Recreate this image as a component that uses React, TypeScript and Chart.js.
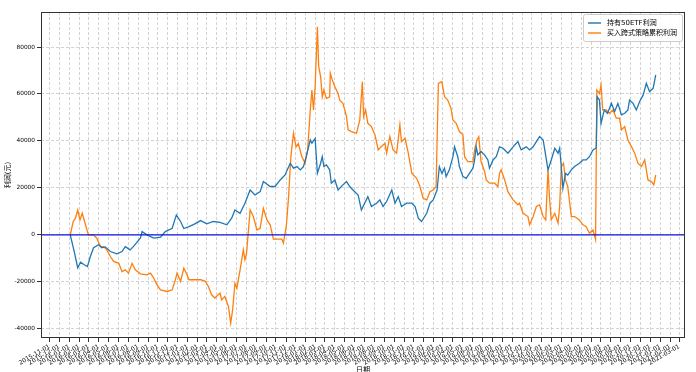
import React, { useEffect, useRef } from "react";
import { Chart, registerables } from "chart.js";

Chart.register(...registerables);

// ---------- data ----------
const seriesLabels = ["持有50ETF利润", "买入跨式策略累积利润"];
const yAxisTitle = "利润(元)";
const xAxisTitle = "日期";

const holdDates = [
  "2016-01-04","2016-01-15","2016-01-27","2016-02-05","2016-02-15","2016-02-26","2016-03-06","2016-03-16","2016-04-01","2016-04-11",
  "2016-04-21","2016-05-07","2016-05-27","2016-06-12","2016-06-22","2016-07-07","2016-07-17","2016-08-08","2016-08-13","2016-08-28",
  "2016-09-18","2016-10-09","2016-10-24","2016-11-14","2016-11-27","2016-12-10","2016-12-20","2017-01-05","2017-01-20","2017-02-10",
  "2017-03-01","2017-03-21","2017-04-11","2017-05-02","2017-05-17","2017-05-27","2017-06-12","2017-06-27","2017-07-13","2017-07-28",
  "2017-08-13","2017-08-23","2017-09-13","2017-09-28","2017-10-14","2017-10-29","2017-11-14","2017-11-24","2017-12-05","2017-12-15",
  "2017-12-25","2018-01-05","2018-01-15","2018-01-20","2018-01-30","2018-02-06","2018-02-16","2018-02-21","2018-02-26","2018-03-06",
  "2018-03-16","2018-03-21","2018-04-01","2018-04-11","2018-04-26","2018-05-07","2018-05-17","2018-05-27","2018-06-12","2018-06-22",
  "2018-07-02","2018-07-12","2018-07-23","2018-08-08","2018-08-18","2018-08-28","2018-09-08","2018-09-24","2018-10-04","2018-10-14",
  "2018-10-24","2018-11-09","2018-11-25","2018-12-05","2018-12-15","2018-12-25","2019-01-10","2019-01-20","2019-01-30","2019-02-11",
  "2019-02-18","2019-02-26","2019-03-06","2019-03-11","2019-03-21","2019-04-01","2019-04-06","2019-04-16","2019-04-21","2019-05-02",
  "2019-05-12","2019-05-22","2019-06-02","2019-06-07","2019-06-12","2019-06-17","2019-06-27","2019-07-08","2019-07-18","2019-07-23",
  "2019-08-03","2019-08-13","2019-08-23","2019-09-03","2019-09-18","2019-10-04","2019-10-09","2019-10-19","2019-10-29","2019-11-14",
  "2019-11-24","2019-12-05","2019-12-15","2019-12-25","2020-01-05","2020-01-10","2020-01-20","2020-01-30","2020-02-10","2020-02-20",
  "2020-02-25","2020-03-01","2020-03-06","2020-03-14","2020-03-21","2020-04-01","2020-04-11","2020-04-26","2020-05-07","2020-05-17",
  "2020-05-27","2020-06-07","2020-06-17","2020-06-20","2020-06-27","2020-07-02","2020-07-07","2020-07-12","2020-07-22","2020-08-03",
  "2020-08-13","2020-08-23","2020-09-03","2020-09-13","2020-09-23","2020-09-28","2020-10-09","2020-10-19","2020-10-29","2020-11-09",
  "2020-11-19","2020-11-29","2020-12-10","2020-12-18",
];
const holdProfit = [
  0,-6400,-14000,-11600,-12600,-13500,-9200,-5500,-4200,-5500,
  -5100,-7100,-8100,-7100,-5000,-6400,-5000,-1300,1400,0,
  -1400,-1000,1400,2800,8500,5700,2700,3500,4500,6100,
  4700,5700,5300,4300,7100,10600,9200,13500,19100,17000,
  18400,22700,20600,20600,23400,25500,30500,28400,29100,27700,
  29100,34800,40400,39000,41100,26200,30500,33300,29100,29800,
  27700,22000,23400,19100,21300,22700,20600,19100,17000,10600,
  13500,16300,12100,13500,14900,12100,14200,19100,13500,16300,
  12100,13500,13500,12100,7100,5700,9200,13500,14900,19100,
  29100,26200,28400,24800,27700,33300,37500,33300,29100,24800,
  24100,26200,28400,31900,37500,34100,35500,34100,31900,28400,
  31900,33300,37500,36900,34800,37500,38300,39700,36200,37500,
  36200,37500,39700,41900,40400,36200,27700,31900,36900,34800,
  36900,29100,19900,26200,25500,27700,29100,30500,31900,31900,
  33300,36200,37000,58800,57400,47500,50400,53200,51800,56000,
  52500,56000,51100,51800,53200,57400,56000,53200,56700,59500,
  64500,61000,62400,68100,
];

const straddleDates = [
  "2016-01-04","2016-01-13","2016-01-20","2016-01-27","2016-02-03","2016-02-10","2016-02-20","2016-02-29","2016-03-16","2016-03-26",
  "2016-04-06","2016-04-16","2016-04-26","2016-05-07","2016-05-17","2016-06-02","2016-06-12","2016-06-22","2016-07-02","2016-07-13",
  "2016-07-23","2016-08-08","2016-08-28","2016-09-08","2016-09-18","2016-09-28","2016-10-09","2016-10-29","2016-11-14","2016-11-24",
  "2016-11-29","2016-12-10","2016-12-20","2016-12-30","2017-01-05","2017-01-20","2017-02-10","2017-02-25","2017-03-06","2017-03-16",
  "2017-03-26","2017-04-11","2017-04-16","2017-04-26","2017-05-07","2017-05-14","2017-05-20","2017-05-27","2017-06-02","2017-06-12",
  "2017-06-22","2017-06-27","2017-07-02","2017-07-13","2017-07-23","2017-08-03","2017-08-13","2017-08-23","2017-09-03","2017-09-13",
  "2017-09-23","2017-10-09","2017-10-19","2017-10-24","2017-11-02","2017-11-09","2017-11-16","2017-11-24","2017-12-02","2017-12-09",
  "2017-12-20","2017-12-30","2018-01-07","2018-01-15","2018-01-20","2018-01-25","2018-01-30","2018-02-06","2018-02-10","2018-02-16",
  "2018-02-21","2018-02-26","2018-03-06","2018-03-16","2018-03-18","2018-03-24","2018-04-01","2018-04-11","2018-04-16","2018-04-26",
  "2018-05-07","2018-05-12","2018-05-22","2018-06-07","2018-06-17","2018-06-25","2018-06-29","2018-07-05","2018-07-12","2018-07-23",
  "2018-08-03","2018-08-13","2018-08-23","2018-09-03","2018-09-08","2018-09-18","2018-09-28","2018-10-09","2018-10-19","2018-10-24",
  "2018-11-04","2018-11-14","2018-11-25","2018-12-10","2018-12-20","2018-12-30","2019-01-10","2019-01-20","2019-01-30","2019-02-08",
  "2019-02-15","2019-02-26","2019-03-06","2019-03-16","2019-03-26","2019-04-01","2019-04-11","2019-04-21","2019-05-02","2019-05-07",
  "2019-05-17","2019-06-02","2019-06-07","2019-06-14","2019-06-20","2019-06-27","2019-07-08","2019-07-13","2019-07-23","2019-08-08",
  "2019-08-18","2019-08-23","2019-08-28","2019-09-08","2019-09-18","2019-10-04","2019-10-19","2019-10-24","2019-11-04","2019-11-19",
  "2019-11-24","2019-12-05","2019-12-15","2019-12-25","2020-01-05","2020-01-13","2020-01-20","2020-01-25","2020-01-30","2020-02-10",
  "2020-02-20","2020-02-25","2020-03-01","2020-03-08","2020-03-14","2020-03-21","2020-04-01","2020-04-11","2020-04-26","2020-05-07",
  "2020-05-17","2020-05-27","2020-06-07","2020-06-15","2020-06-19","2020-06-27","2020-07-02","2020-07-07","2020-07-18","2020-07-28",
  "2020-08-08","2020-08-18","2020-08-28","2020-09-03","2020-09-13","2020-09-23","2020-10-04","2020-10-14","2020-10-24","2020-11-04",
  "2020-11-14","2020-11-24","2020-12-05","2020-12-12","2020-12-18",
];
const straddleProfit = [
  0,5700,7100,10600,6400,9200,4300,0,0,-1400,
  -5000,-5000,-6400,-9200,-11300,-12100,-15600,-14900,-16300,-12100,
  -14900,-16600,-17000,-16300,-18400,-21300,-23400,-24100,-23400,-19100,
  -16300,-19800,-14200,-17000,-19100,-19100,-19100,-19800,-22000,-25500,
  -26900,-24800,-27700,-26200,-30500,-37600,-31900,-20600,-22700,-14900,
  -6400,-10600,-7800,10600,7800,2100,2800,11300,6400,4300,
  -1800,-1800,-1800,-3500,3800,16300,33300,43300,37500,38900,
  33300,30500,36200,53200,61700,53200,63100,88600,71600,67400,
  58800,61700,58100,58800,68800,66000,63100,60200,57400,56000,
  50400,44700,44000,43300,48900,65200,50400,53200,47500,46100,
  42600,36200,37600,39000,34800,41900,36200,34800,46800,39700,
  41100,34800,26200,24100,20600,15600,14900,18400,19100,20600,
  64500,65200,58800,57400,53900,48900,47500,44000,42600,33300,
  31200,31200,36200,40400,41800,31200,27000,23400,22000,22000,
  20600,26200,27700,23400,18400,14900,12800,13500,9200,7800,
  4300,7800,12100,12800,7800,6400,27700,14900,6400,9200,
  5000,12100,29100,30500,23400,20600,7800,7800,6400,4300,
  3500,700,2100,-2000,61700,60200,63800,53200,53200,51800,
  53200,49700,49700,44700,46100,40400,37600,34800,30500,29100,
  31900,23400,22700,21300,25500,
];

const yTickValues = [-40000, -20000, 0, 20000, 40000, 60000, 80000];
const xTickFirst = "2015-11-01";
const xTickLast = "2021-03-01";
const zeroLineValue = 0;

// ---------- helpers ----------
const toTime = (s: string) =>
  Date.UTC(+s.slice(0, 4), +s.slice(5, 7) - 1, +s.slice(8, 10));
const fmtDate = (t: number) => {
  const d = new Date(t);
  const m = String(d.getUTCMonth() + 1).padStart(2, "0");
  const dd = String(d.getUTCDate()).padStart(2, "0");
  return `${d.getUTCFullYear()}-${m}-${dd}`;
};
const monthTicks = (() => {
  const out: number[] = [];
  let y = +xTickFirst.slice(0, 4);
  let m = +xTickFirst.slice(5, 7) - 1;
  const end = toTime(xTickLast);
  while (Date.UTC(y, m, 1) <= end) {
    out.push(Date.UTC(y, m, 1));
    m++;
    if (m > 11) { m = 0; y++; }
  }
  return out;
})();

const FONT = '"DejaVu Sans", "Noto Sans CJK SC", sans-serif';
const BLUE = "#1f77b4";
const ORANGE = "#ff7f0e";

const framePlugin = {
  id: "mplFrame",
  afterDatasetsDraw(chart: any) {
    const { ctx, chartArea, scales } = chart;
    const y0 = scales.y.getPixelForValue(zeroLineValue);
    ctx.save();
    ctx.strokeStyle = "#1010e0";
    ctx.lineWidth = 1.4;
    ctx.beginPath();
    ctx.moveTo(chartArea.left, y0);
    ctx.lineTo(chartArea.right, y0);
    ctx.stroke();
    ctx.restore();
  },
  afterDraw(chart: any) {
    const { ctx, chartArea } = chart;
    ctx.save();
    // axes frame
    ctx.strokeStyle = "#333";
    ctx.lineWidth = 1;
    ctx.strokeRect(
      Math.round(chartArea.left) + 0.5,
      Math.round(chartArea.top) + 0.5,
      Math.round(chartArea.right - chartArea.left) - 1,
      Math.round(chartArea.bottom - chartArea.top) - 1
    );
    // legend
    ctx.font = `7px ${FONT}`;
    const colors = [BLUE, ORANGE];
    const tw = Math.max(...seriesLabels.map((l) => ctx.measureText(l).width));
    const w = tw + 29;
    const h = 27;
    const x = chartArea.right - 3 - w;
    const y = chartArea.top + 2;
    ctx.fillStyle = "rgba(255,255,255,0.85)";
    ctx.strokeStyle = "#cccccc";
    ctx.lineWidth = 1;
    ctx.beginPath();
    (ctx as any).roundRect(Math.round(x) + 0.5, Math.round(y) + 0.5, Math.round(w), h, 2);
    ctx.fill();
    ctx.stroke();
    seriesLabels.forEach((lab, i) => {
      const cy = y + 9 + i * 10;
      ctx.strokeStyle = colors[i];
      ctx.lineWidth = 1.4;
      ctx.beginPath();
      ctx.moveTo(x + 5, cy);
      ctx.lineTo(x + 18, cy);
      ctx.stroke();
      ctx.fillStyle = "#000";
      ctx.textBaseline = "middle";
      ctx.textAlign = "left";
      ctx.fillText(lab, x + 24, cy);
    });
    ctx.restore();
  },
};

const gridOpts = {
  color: "#c8c8c8",
  lineWidth: 0.8,
  drawTicks: true,
  tickLength: 4,
  tickColor: "#333",
  tickBorderDash: [],
  tickWidth: 1,
} as any;

export default function App() {
  const ref = useRef<HTMLCanvasElement | null>(null);
  useEffect(() => {
    if (!ref.current) return;
    const hold = holdDates.map((d, i) => ({ x: toTime(d), y: holdProfit[i] }));
    const strad = straddleDates.map((d, i) => ({ x: toTime(d), y: straddleProfit[i] }));
    const allX = [...hold, ...strad].map((p) => p.x);
    const allY = [...holdProfit, ...straddleProfit];
    const xMinD = Math.min(...allX), xMaxD = Math.max(...allX);
    const yMinD = Math.min(...allY), yMaxD = Math.max(...allY);
    const xPad = (xMaxD - xMinD) * 0.05;
    const yPad = (yMaxD - yMinD) * 0.05;

    const chart = new Chart(ref.current, {
      type: "line",
      data: {
        datasets: [
          {
            label: seriesLabels[0],
            data: hold,
            borderColor: BLUE,
            backgroundColor: BLUE,
            borderWidth: 1.3,
            pointRadius: 0,
            tension: 0,
          },
          {
            label: seriesLabels[1],
            data: strad,
            borderColor: ORANGE,
            backgroundColor: ORANGE,
            borderWidth: 1.3,
            pointRadius: 0,
            tension: 0,
          },
        ],
      },
      plugins: [framePlugin],
      options: {
        animation: false,
        responsive: true,
        maintainAspectRatio: false,
        devicePixelRatio: 1,
        layout: { padding: { top: 12, right: 11, left: 0, bottom: 0 } },
        plugins: { legend: { display: false }, tooltip: { enabled: false } },
        scales: {
          x: {
            type: "linear",
            min: xMinD - xPad,
            max: xMaxD + xPad,
            afterBuildTicks: (scale: any) => {
              scale.ticks = monthTicks.map((v) => ({ value: v }));
            },
            afterFit: (scale: any) => {
              scale.height = 34;
            },
            border: { display: false, dash: [3, 2] } as any,
            grid: gridOpts,
            ticks: {
              autoSkip: false,
              maxRotation: 30,
              minRotation: 30,
              padding: 1,
              color: "#000",
              font: { family: FONT, size: 6 },
              callback: (v: any) => fmtDate(Number(v)),
            },
            title: {
              display: true,
              text: xAxisTitle,
              color: "#000",
              font: { family: FONT, size: 7 },
              padding: { top: 0, bottom: -2 },
            },
          },
          y: {
            type: "linear",
            min: yMinD - yPad,
            max: yMaxD + yPad,
            afterBuildTicks: (scale: any) => {
              scale.ticks = yTickValues.map((v) => ({ value: v }));
            },
            afterFit: (scale: any) => {
              scale.width = 41;
            },
            border: { display: false, dash: [3, 2] } as any,
            grid: gridOpts,
            ticks: {
              padding: 2,
              color: "#000",
              font: { family: FONT, size: 5.8 },
              callback: (v: any) => String(v),
            },
            title: {
              display: true,
              text: yAxisTitle,
              color: "#000",
              font: { family: FONT, size: 7 },
              padding: { top: 4, bottom: 0 },
            },
          },
        },
      },
    });
    return () => chart.destroy();
  }, []);

  return (
    <div style={{ position: "fixed", left: 0, top: 0, width: 696, height: 372, background: "#fff" }}>
      <canvas ref={ref} />
    </div>
  );
}
